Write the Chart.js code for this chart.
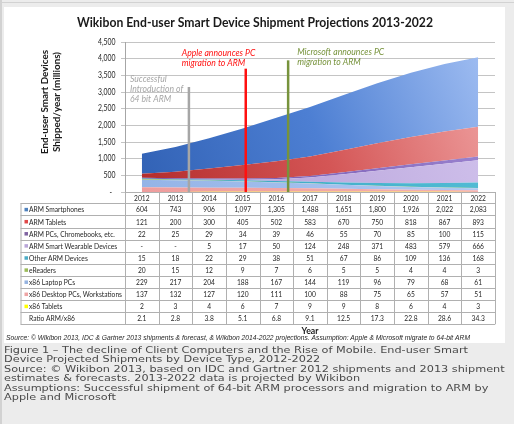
<!DOCTYPE html>
<html>
<head>
<meta charset="utf-8">
<script src="https://cdn.jsdelivr.net/npm/chart.js@4.4.1/dist/chart.umd.min.js"></script>
<style>
    html, body { margin: 0; padding: 0; background: #ececec; }
    canvas { display: block; }
</style>
</head>
<body>
<canvas id="myChart" width="514" height="424"></canvas>
<script>
// data (millions of units shipped per year)
const years = ["2012", "2013", "2014", "2015", "2016", "2017", "2018", "2019", "2020", "2021", "2022"];
const armSmartphones = [604, 743, 906, 1097, 1305, 1488, 1651, 1800, 1926, 2022, 2083];
const armTablets = [121, 200, 300, 405, 502, 583, 670, 750, 818, 867, 893];
const armPCs = [22, 25, 29, 34, 39, 46, 55, 70, 85, 100, 115];
const armWearables = [0, 0, 5, 17, 50, 124, 248, 371, 483, 579, 666];
const otherArm = [15, 18, 22, 29, 38, 51, 67, 86, 109, 136, 168];
const eReaders = [20, 15, 12, 9, 7, 6, 5, 5, 4, 4, 3];
const x86Laptops = [229, 217, 204, 188, 167, 144, 119, 96, 79, 68, 61];
const x86Desktops = [137, 132, 127, 120, 111, 100, 88, 75, 65, 57, 51];
const x86Tablets = [2, 3, 4, 6, 7, 9, 9, 8, 6, 4, 3];
const ratioArmX86 = [2.1, 2.8, 3.8, 5.1, 6.8, 9.1, 12.5, 17.3, 22.8, 28.6, 34.3];

// table order, top to bottom (the stack is drawn the other way round)
const seriesNames = ["ARM Smartphones", "ARM Tablets", "ARM PCs, Chromebooks, etc.", "ARM Smart Wearable Devices",
    "Other ARM Devices", "eReaders", "x86 Laptop PCs", "x86 Desktop PCs, Workstations", "x86 Tablets"];
const seriesValues = [armSmartphones, armTablets, armPCs, armWearables, otherArm, eReaders, x86Laptops, x86Desktops, x86Tablets];

// milestone markers: position on the year axis (index), height of the line, caption
const milestoneAt = [1.4, 3.09, 4.35];
const milestoneTop = [3150, 3700, 3950];
const milestoneText = [
    ["Successful", "Introduction of", "64 bit ARM"],
    ["Apple announces PC", "migration to ARM"],
    ["Microsoft announces PC", "migration to ARM"]
];

const chartTitle = "Wikibon End-user Smart Device Shipment Projections 2013-2022";
const yTitle = ["End-user Smart Devices", "Shipped/year (millions)"];
const sourceNote = "Source: \u00a9 Wikibon 2013, IDC & Gartner 2013 shipments & forecast, & Wikibon 2014-2022 projections. Assumption: Apple & Microsoft migrate to 64-bit ARM";
const caption = [
    "Figure 1 \u2013 The decline of Client Computers and the Rise of Mobile. End-user Smart",
    "Device Projected Shipments by Device Type, 2012-2022",
    "Source: \u00a9 Wikibon 2013, based on IDC and Gartner 2012 shipments and 2013 shipment",
    "estimates & forecasts. 2013-2022 data is projected by Wikibon",
    "Assumptions: Successful shipment of 64-bit ARM processors and migration to ARM by",
    "Apple and Microsoft"
];

// styles
const fillStops = [
    ["#2f5fb2", "#4d7fd3", "#a6c2f4"],
    ["#b02828", "#d45656", "#f2a9a9"],
    ["#6a52a6", "#8569bd", "#a08ad4"],
    ["#b3a0d8", "#c0ade0", "#d3c5ee"],
    ["#35a0bc", "#44b1cb", "#58c0d8"],
    ["#9bbb59", "#9bbb59", "#a9c86a"],
    ["#93b3e6", "#a4c0ee", "#b6cdf3"],
    ["#ee9c9c", "#f2a8a8", "#f5b6b6"],
    ["#ffff00", "#ffff00", "#ffff00"]
];
const keyColors = ["#4f81bd", "#e04848", "#8064a2", "#b9a6d9", "#4bacc6", "#9bbb59", "#95b3e0", "#eea4a4", "#ffff00"];
const markColors = ["#a6a6a6", "#ff1010", "#77933c"];
const noteOffset = [[-59, -8], [-64, -16], [9, -8]];

const areaFill = (stops) => (c) => {
    const a = c.chart.chartArea;
    if (!a) return stops[1];
    const g = c.chart.ctx.createLinearGradient(a.left, a.bottom, a.right, a.top);
    g.addColorStop(0, stops[0]);
    g.addColorStop(0.5, stops[1]);
    g.addColorStop(1, stops[2]);
    return g;
};

// squeeze factor so a wide fallback font takes the room the original text took
const squeeze = (ctx, font, sample, target) => {
    ctx.save();
    ctx.font = font;
    const w = ctx.measureText(sample).width;
    ctx.restore();
    return target / w;
};

const put = (ctx, text, x, y, font, color, align, k) => {
    ctx.save();
    ctx.font = font;
    ctx.fillStyle = color;
    ctx.textAlign = align;
    ctx.textBaseline = "middle";
    ctx.translate(x, y);
    ctx.scale(k, 1);
    ctx.fillText(text, 0, 0);
    ctx.restore();
};

const fmt = (v) => v === 0 ? "-" : v.toLocaleString("en-US");

const sheet = {
    id: "sheet",
    beforeDraw(chart) {
        const ctx = chart.ctx;
        ctx.save();
        ctx.fillStyle = "#ececec";
        ctx.fillRect(0, 0, 514, 424);
        ctx.fillStyle = "#d2d2d2";
        ctx.fillRect(0, 2, 514, 1);
        ctx.fillRect(0, 0, 2, 424);
        ctx.fillStyle = "#ffffff";
        ctx.fillRect(4, 7, 501, 336);
        ctx.restore();

        // y tick labels
        const y = chart.scales.y;
        const fTick = "8.5px Lato";
        const kTick = squeeze(ctx, fTick, "4,500", 17.5);
        y.ticks.forEach(t => {
            const label = t.value === 0 ? "-" : t.value.toLocaleString("en-US");
            put(ctx, label, t.value === 0 ? 112 : 115.5, y.getPixelForValue(t.value), fTick, "#262626", "right", kTick);
        });
    },
    afterDatasetsDraw(chart) {
        const ctx = chart.ctx;
        const x = chart.scales.x, y = chart.scales.y;
        const fNote = "italic 9px Lato";
        const kNote = squeeze(ctx, fNote, "Microsoft announces PC", 87);
        milestoneAt.forEach((at, i) => {
            const px = x.getPixelForValue(at);
            const top = y.getPixelForValue(milestoneTop[i]);
            ctx.save();
            ctx.strokeStyle = markColors[i];
            ctx.lineWidth = 2.5;
            ctx.beginPath();
            ctx.moveTo(px, top);
            ctx.lineTo(px, chart.chartArea.bottom);
            ctx.stroke();
            ctx.restore();
            milestoneText[i].forEach((line, j) => {
                put(ctx, line, px + noteOffset[i][0], top + noteOffset[i][1] + j * 10, fNote, markColors[i], "left", kNote);
            });
        });
    },
    afterDraw(chart) {
        const ctx = chart.ctx;
        const x = chart.scales.x;
        const area = chart.chartArea;

        // title and axis titles
        const fTitle = "bold 12.5px Lato";
        put(ctx, chartTitle, 255, 23, fTitle, "#1a1a1a", "center", squeeze(ctx, fTitle, chartTitle, 356));
        const fYT = "bold 9.5px Lato";
        const kYT = squeeze(ctx, fYT, yTitle[1], 100);
        yTitle.forEach((t, i) => {
            ctx.save();
            ctx.translate(45 + i * 12, 102);
            ctx.rotate(-Math.PI / 2);
            put(ctx, t, 0, 0, fYT, "#1a1a1a", "center", kYT);
            ctx.restore();
        });

        // data table under the plot
        const left = 20.5, right = area.right, split = area.left;
        const headTop = area.bottom, headH = 11.3, rowH = 12.1;
        const bodyTop = headTop + headH;
        const nRows = seriesNames.length + 1;
        const bottom = bodyTop + nRows * rowH;
        const edges = years.map((_, i) => x.getPixelForValue(i - 0.5)).concat([x.getPixelForValue(years.length - 0.5)]);

        ctx.save();
        ctx.strokeStyle = "#b0b0b0";
        ctx.lineWidth = 1;
        ctx.beginPath();
        ctx.moveTo(split, headTop + 0.5); ctx.lineTo(right, headTop + 0.5);
        for (let r = 0; r <= nRows; r++) {
            const yy = Math.round(bodyTop + r * rowH) + 0.5;
            ctx.moveTo(left, yy); ctx.lineTo(right, yy);
        }
        ctx.moveTo(left + 0.5, bodyTop); ctx.lineTo(left + 0.5, bottom);
        edges.forEach(e => {
            const xx = Math.round(e) + 0.5;
            ctx.moveTo(xx, headTop); ctx.lineTo(xx, bottom);
        });
        ctx.stroke();
        ctx.restore();

        const fTab = "8px Lato";
        const kTab = squeeze(ctx, fTab, "x86 Desktop PCs, Workstations", 93);
        years.forEach((yr, i) => {
            put(ctx, yr, x.getPixelForValue(i), headTop + headH / 2 + 0.5, fTab, "#262626", "center", kTab);
        });
        seriesNames.forEach((name, r) => {
            const cy = bodyTop + r * rowH + rowH / 2 + 0.5;
            ctx.fillStyle = keyColors[r];
            ctx.fillRect(24.5, cy - 2, 3.5, 3.5);
            put(ctx, name, 29, cy, fTab, "#262626", "left", kTab);
            seriesValues[r].forEach((v, i) => {
                put(ctx, fmt(v), x.getPixelForValue(i), cy, fTab, "#262626", "center", kTab);
            });
        });
        const cyR = bodyTop + seriesNames.length * rowH + rowH / 2 + 0.5;
        put(ctx, "Ratio ARM/x86", 29, cyR, fTab, "#262626", "left", kTab);
        ratioArmX86.forEach((v, i) => {
            put(ctx, v.toFixed(1), x.getPixelForValue(i), cyR, fTab, "#262626", "center", kTab);
        });

        const fYear = "bold 8.5px Lato";
        put(ctx, "Year", (area.left + area.right) / 2, 331.5, fYear, "#1a1a1a", "center", squeeze(ctx, fYear, "Year", 17));
        const fSrc = "italic 6.5px 'Liberation Sans'";
        put(ctx, sourceNote, 6, 338.5, fSrc, "#262626", "left", squeeze(ctx, fSrc, sourceNote, 464));

        // figure caption on the grey page
        const fCap = "9.5px 'DejaVu Sans'";
        const kCap = squeeze(ctx, fCap, caption[0], 464);
        caption.forEach((line, i) => {
            put(ctx, line, 4, 350.5 + i * 9.4, fCap, "#4a4a4a", "left", kCap);
        });
    }
};

// stack from the bottom up: x86 Tablets first, ARM Smartphones last
const datasets = seriesNames.map((name, i) => ({
    label: name,
    data: seriesValues[i],
    backgroundColor: areaFill(fillStops[i]),
    borderColor: "transparent",
    borderWidth: 0,
    pointRadius: 0,
    tension: 0
})).reverse().map((d, i) => Object.assign(d, { fill: i === 0 ? "origin" : "-1" }));

const ctx = document.getElementById("myChart").getContext("2d");
const myChart = new Chart(ctx, {
    type: "line",
    data: { labels: years, datasets: datasets },
    options: {
        responsive: false,
        animation: false,
        layout: { padding: { top: 42, right: 19, bottom: 232, left: 0 } },
        plugins: {
            legend: { display: false },
            title: { display: false },
            tooltip: { enabled: false }
        },
        scales: {
            x: { display: false, offset: true, stacked: true },
            y: {
                stacked: true,
                min: 0,
                max: 4500,
                ticks: { stepSize: 500, display: false },
                grid: { color: "#c4c4c4", tickLength: 4, drawTicks: true },
                border: { color: "#a6a6a6" },
                afterFit: (s) => { s.width = 125; }
            }
        }
    },
    plugins: [sheet]
});
</script>
</body>
</html>
